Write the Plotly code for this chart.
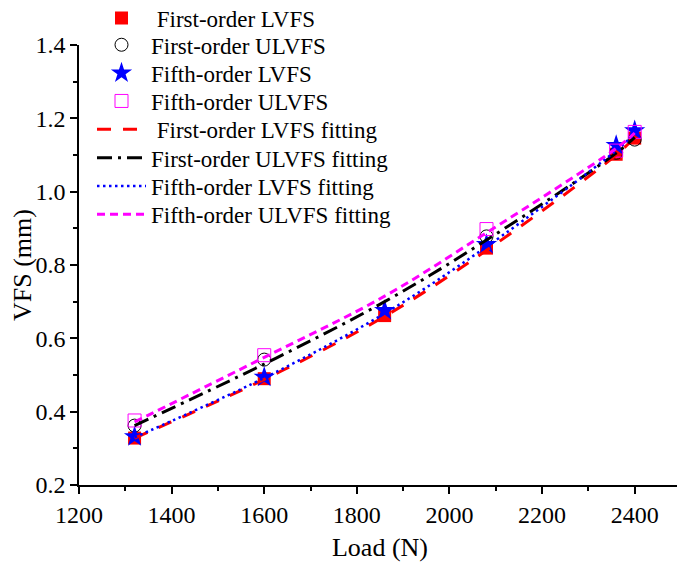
import plotly.graph_objects as go

# ---- data ----
load_lvfs = [1320, 1600, 1860, 2080, 2360, 2400]
first_lvfs = [0.328, 0.490, 0.662, 0.846, 1.102, 1.146]
fifth_lvfs = [0.332, 0.494, 0.676, 0.856, 1.126, 1.166]

load_ulvfs = [1320, 1600, 2080, 2360, 2400]
first_ulvfs = [0.362, 0.542, 0.878, 1.106, 1.142]
fifth_ulvfs = [0.376, 0.554, 0.898, 1.112, 1.163]

fit_load = [1320, 1600, 1860, 2080, 2360, 2400]
fit_first_lvfs = [0.328, 0.488, 0.660, 0.840, 1.100, 1.148]
fit_first_ulvfs = [0.362, 0.530, 0.700, 0.868, 1.105, 1.148]
fit_fifth_lvfs = [0.330, 0.492, 0.668, 0.850, 1.112, 1.158]
fit_fifth_ulvfs = [0.372, 0.548, 0.715, 0.888, 1.118, 1.160]

x_ticks = [1200, 1400, 1600, 1800, 2000, 2200, 2400]
y_ticks = [0.2, 0.4, 0.6, 0.8, 1.0, 1.2, 1.4]

series_names = [
    "\u00a0First-order LVFS",
    "First-order ULVFS",
    "Fifth-order LVFS",
    "Fifth-order ULVFS",
    "\u00a0First-order LVFS fitting",
    "First-order ULVFS fitting",
    "Fifth-order LVFS fitting",
    "Fifth-order ULVFS fitting",
]
x_title = "Load (N)"
y_title = "VFS (mm)"

FONT = "Liberation Serif"
W, H = 685, 580

fig = go.Figure()

fig.add_trace(go.Scatter(x=load_lvfs, y=first_lvfs, mode="markers",
                         name=series_names[0], legend="legend",
                         marker=dict(symbol="square", size=13, color="#ff0000")))
fig.add_trace(go.Scatter(x=load_ulvfs, y=first_ulvfs, mode="markers",
                         name=series_names[1], legend="legend2",
                         marker=dict(symbol="circle-open", size=13, color="#000000",
                                     line=dict(width=1))))
fig.add_trace(go.Scatter(x=load_lvfs, y=fifth_lvfs, mode="markers",
                         name=series_names[2], legend="legend3",
                         marker=dict(symbol="star", size=16, color="#0000ff")))
fig.add_trace(go.Scatter(x=load_ulvfs, y=fifth_ulvfs, mode="markers",
                         name=series_names[3], legend="legend4",
                         marker=dict(symbol="square-open", size=13, color="#ff00ff",
                                     line=dict(width=1))))

fig.add_trace(go.Scatter(x=fit_load, y=fit_first_lvfs, mode="lines",
                         name=series_names[4], legend="legend5", line_shape="spline",
                         line=dict(color="#ff0000", width=3, dash="14px,12px")))
fig.add_trace(go.Scatter(x=fit_load, y=fit_first_ulvfs, mode="lines",
                         name=series_names[5], legend="legend6", line_shape="spline",
                         line=dict(color="#000000", width=3, dash="15px,6px,3px,6px")))
fig.add_trace(go.Scatter(x=fit_load, y=fit_fifth_lvfs, mode="lines",
                         name=series_names[6], legend="legend7", line_shape="spline",
                         line=dict(color="#0000ff", width=2.5, dash="2.5px,3.5px")))
fig.add_trace(go.Scatter(x=fit_load, y=fit_fifth_ulvfs, mode="lines",
                         name=series_names[7], legend="legend8", line_shape="spline",
                         line=dict(color="#ff00ff", width=3, dash="8px,5px")))

# legend row centres (figure px from top)
row_y = [10, 36.8, 64.9, 93, 121.3, 149.7, 178, 206.3]
legend_x_px = 84

layout_legends = {}
for i, yc in enumerate(row_y):
    key = "legend" if i == 0 else f"legend{i + 1}"
    layout_legends[key] = dict(
        xref="container", yref="container",
        x=legend_x_px / W, y=1 - yc / H,
        xanchor="left", yanchor="middle",
        bgcolor="rgba(0,0,0,0)", borderwidth=0,
        font=dict(family=FONT, size=23, color="black"),
        itemwidth=49,
    )

fig.update_layout(
    width=W, height=H,
    margin=dict(l=71, r=12, t=37, b=103, autoexpand=False),
    paper_bgcolor="white", plot_bgcolor="white",
    font=dict(family=FONT, size=24, color="black"),
    showlegend=True,
    annotations=[dict(
        text=y_title, textangle=-90,
        xref="paper", yref="paper", x=0, y=0.5,
        xanchor="center", yanchor="middle",
        xshift=-57, showarrow=False,
        font=dict(family=FONT, size=26, color="black"),
    )],
    **layout_legends,
)

fig.update_xaxes(
    range=[1200, 2500], tickvals=x_ticks, ticktext=[str(v) for v in x_ticks],
    tickangle=0,
    showgrid=False, zeroline=False, showline=True, linecolor="black", linewidth=1.5,
    ticks="outside", ticklen=7, tickwidth=1.5, tickcolor="black",
    minor=dict(dtick=100, tick0=1200, ticks="outside", ticklen=4, tickwidth=1.5, tickcolor="black"),
    tickfont=dict(family=FONT, size=24, color="black"),
    title=dict(text=x_title, font=dict(family=FONT, size=26), standoff=11),
)
fig.update_yaxes(
    range=[0.2, 1.4], tickvals=y_ticks, ticktext=[f"{v:.1f}" for v in y_ticks],
    showgrid=False, zeroline=False, showline=True, linecolor="black", linewidth=1.5,
    ticks="outside", ticklen=7, tickwidth=1.5, tickcolor="black",
    minor=dict(dtick=0.1, tick0=0.2, ticks="outside", ticklen=4, tickwidth=1.5, tickcolor="black"),
    tickfont=dict(family=FONT, size=24, color="black"),
)

fig.write_html("out.html")
